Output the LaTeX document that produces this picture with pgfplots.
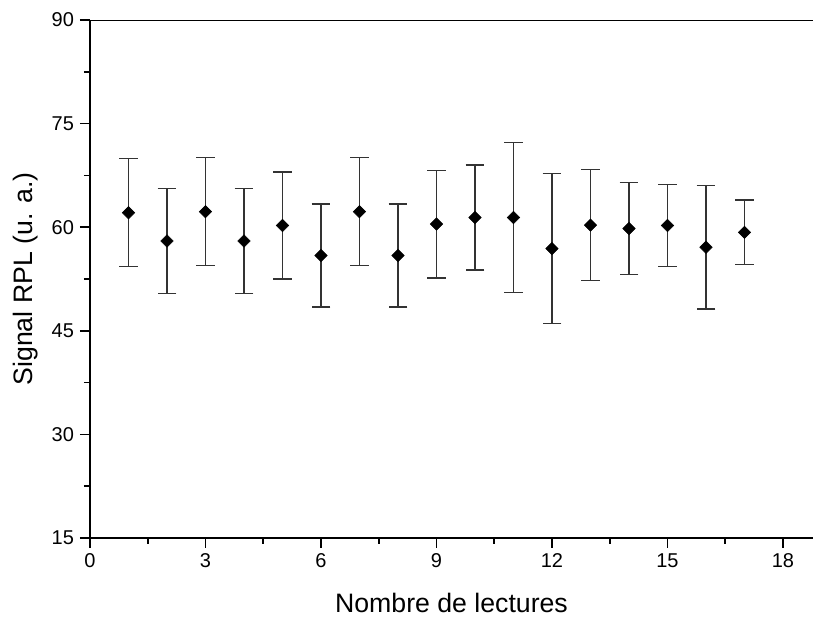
\documentclass[border=0pt]{standalone}
\usepackage{fontspec}
\setmainfont{Liberation Sans}
\usepackage{pgfplots}
\pgfplotsset{compat=1.18}
\begin{document}
\begin{tikzpicture}
\begin{axis}[
 scale only axis, width=542.25pt, height=388.5pt,
 xmin=0, xmax=18.78, ymin=15, ymax=90,
 axis lines=left, axis line style={-, line width=1.6pt},
 xtick={0,3,...,18}, ytick={15,30,...,90},
 minor x tick num=1, minor y tick num=1,
 tick align=outside, major tick length=7.5pt, minor tick length=4.5pt,
 tick style={line width=1.2pt, black},
 xticklabels={0,3,6,9,12,15,18},
 yticklabels={15,30,45,60,75,90},
 tick label style={font=\fontsize{15}{17}\selectfont},
 xticklabel style={yshift=-1pt},
 yticklabel style={xshift=-1pt},
 xlabel={Nombre de lectures}, ylabel={Signal RPL (u. a.)},
 label style={font=\fontsize{20}{24}\selectfont},
 xlabel style={at={(axis description cs:0.5,-0.1448)}, anchor=base},
 ylabel style={at={(axis description cs:-0.0802,0.5)}, anchor=base},
 clip=false,
]
\addplot[only marks, mark=square*, mark size=3.3pt, mark options={rotate=45, black},
  error bars/.cd, y dir=both, y explicit,
  error bar style={line width=0.9pt, black!80},
  error mark options={rotate=90, mark size=7pt, line width=0.9pt, black!80}]
 coordinates {
 (1,62.1) +- (0,7.8)
 (2,58.0) +- (0,7.55)
 (3,62.25) +- (0,7.8)
 (4,58.0) +- (0,7.55)
 (5,60.25) +- (0,7.75)
 (6,55.9) +- (0,7.45)
 (7,62.25) +- (0,7.8)
 (8,55.9) +- (0,7.45)
 (9,60.45) +- (0,7.8)
 (10,61.4) +- (0,7.6)
 (11,61.4) +- (0,10.9)
 (12,56.9) +- (0,10.9)
 (13,60.3) +- (0,8.0)
 (14,59.8) +- (0,6.7)
 (15,60.25) +- (0,5.95)
 (16,57.1) +- (0,8.95)
 (17,59.25) +- (0,4.7)
 };
\draw[line width=0.6pt] (rel axis cs:0,1) -- (rel axis cs:1,1);
\coordinate (sw) at (rel axis cs:0,0);
\coordinate (ne) at (rel axis cs:1,1);
\end{axis}
\pgfresetboundingbox
\path[use as bounding box] ([shift={(-67.5pt,-59.25pt)}]sw) rectangle ([shift={(0pt,15pt)}]ne);
\end{tikzpicture}
\end{document}
